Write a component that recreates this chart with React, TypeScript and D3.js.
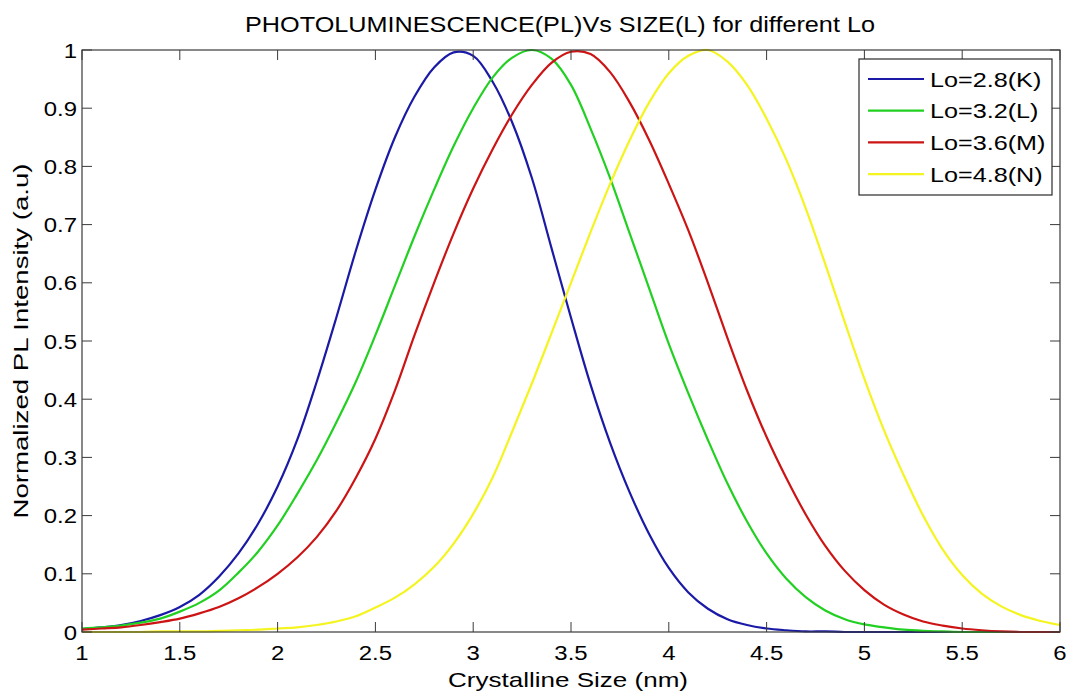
import React from "react";
import * as d3 from "d3";

const W = 1070;
const H = 696;

const sizes = [
  1.0, 1.1, 1.2, 1.3, 1.4, 1.5, 1.6, 1.7, 1.8, 1.9,
  2.0, 2.1, 2.2, 2.3, 2.4, 2.5, 2.6, 2.7, 2.8, 2.9,
  3.0, 3.1, 3.2, 3.3, 3.4, 3.5, 3.6, 3.7, 3.8, 3.9,
  4.0, 4.1, 4.2, 4.3, 4.4, 4.5, 4.6, 4.7, 4.8, 4.9,
  5.0, 5.1, 5.2, 5.3, 5.4, 5.5, 5.6, 5.7, 5.8, 5.9, 6.0,
];

const plK = [
  0.005, 0.008, 0.012, 0.019, 0.029, 0.043, 0.064, 0.095, 0.135, 0.186,
  0.25, 0.33, 0.43, 0.54, 0.655, 0.76, 0.85, 0.92, 0.97, 0.996,
  0.99, 0.945, 0.875, 0.78, 0.66, 0.54, 0.425, 0.325, 0.24, 0.168,
  0.11, 0.068, 0.04, 0.022, 0.012, 0.006, 0.003, 0.001, 0.001, 0,
  0, 0, 0, 0, 0, 0, 0, 0, 0, 0, 0,
];

const plL = [
  0.006, 0.008, 0.011, 0.016, 0.023, 0.035, 0.05, 0.071, 0.102, 0.138,
  0.183, 0.237, 0.295, 0.36, 0.43, 0.51, 0.595, 0.68, 0.76, 0.835,
  0.9, 0.953, 0.987, 1.0, 0.985, 0.94, 0.865, 0.78, 0.685, 0.59,
  0.495, 0.41, 0.33, 0.255, 0.19, 0.135, 0.092, 0.06, 0.037, 0.022,
  0.013, 0.008, 0.004, 0.002, 0.001, 0, 0, 0, 0, 0, 0,
];

const plM = [
  0.004, 0.006, 0.008, 0.012, 0.017, 0.023, 0.032, 0.043, 0.058, 0.077,
  0.1, 0.128, 0.163, 0.208, 0.265, 0.332, 0.415, 0.51, 0.6, 0.685,
  0.762, 0.83, 0.89, 0.94, 0.978, 0.997, 0.993, 0.962, 0.91, 0.845,
  0.77, 0.69, 0.6, 0.505, 0.415, 0.335, 0.265, 0.202, 0.148, 0.105,
  0.072, 0.047, 0.03, 0.018, 0.011, 0.006, 0.003, 0.001, 0, 0, 0,
];

const plN = [
  0, 0, 0, 0, 0.001, 0.001, 0.001, 0.002, 0.003, 0.004,
  0.006, 0.008, 0.012, 0.018, 0.027, 0.042, 0.059, 0.082, 0.112, 0.152,
  0.203, 0.266, 0.345, 0.427, 0.513, 0.6, 0.687, 0.77, 0.845, 0.91,
  0.96, 0.99, 1.0, 0.98, 0.94, 0.882, 0.812, 0.728, 0.632, 0.532,
  0.435, 0.347, 0.27, 0.2, 0.142, 0.098, 0.066, 0.044, 0.029, 0.019, 0.012,
];

const seriesNames = ["Lo=2.8(K)", "Lo=3.2(L)", "Lo=3.6(M)", "Lo=4.8(N)"];
const seriesValues = [plK, plL, plM, plN];
const seriesColors = ["#1a1aa6", "#22d022", "#cc1414", "#f4f420"];

const xTicks = [1, 1.5, 2, 2.5, 3, 3.5, 4, 4.5, 5, 5.5, 6];
const xTickLabels = ["1", "1.5", "2", "2.5", "3", "3.5", "4", "4.5", "5", "5.5", "6"];
const yTicks = [0, 0.1, 0.2, 0.3, 0.4, 0.5, 0.6, 0.7, 0.8, 0.9, 1];
const yTickLabels = ["0", "0.1", "0.2", "0.3", "0.4", "0.5", "0.6", "0.7", "0.8", "0.9", "1"];

const titleText = "PHOTOLUMINESCENCE(PL)Vs SIZE(L) for different Lo";
const xLabelText = "Crystalline Size (nm)";
const yLabelText = "Normalized PL Intensity (a.u)";

const FONT = "'Liberation Sans', Arial, Helvetica, sans-serif";

export default function App() {
  const left = 82;
  const right = 1060;
  const top = 50;
  const bottom = 632;

  const x = d3.scaleLinear().domain([1, 6]).range([left, right]);
  const y = d3.scaleLinear().domain([0, 1]).range([bottom, top]);

  const line = d3
    .line<[number, number]>()
    .x((d) => x(d[0]))
    .y((d) => y(d[1]))
    .curve(d3.curveCatmullRom.alpha(0.5));

  const tickLen = 10;
  const axisColor = "#3a3a3a";

  const legX = 859;
  const legY = 59;
  const legW = 193;
  const legH = 136;
  const rowY0 = 79;
  const rowStep = 31.7;

  return (
    <div style={{ position: "fixed", left: 0, top: 0 }}>
      <svg width={W} height={H} style={{ display: "block", background: "#fff" }}>
        <defs>
          <clipPath id="plotClip">
            <rect x={left} y={top - 2} width={right - left} height={bottom - top + 3} />
          </clipPath>
        </defs>
        <rect x={0} y={0} width={W} height={H} fill="#ffffff" />

        {/* curves */}
        <g clipPath="url(#plotClip)">
          {seriesValues.map((vals, i) => (
            <path
              key={seriesNames[i]}
              d={line(sizes.map((s, j) => [s, vals[j]] as [number, number])) || ""}
              fill="none"
              stroke={seriesColors[i]}
              strokeWidth={2.2}
              strokeLinejoin="round"
            />
          ))}
        </g>

        {/* axes box */}
        <rect
          x={left}
          y={top}
          width={right - left}
          height={bottom - top}
          fill="none"
          stroke={axisColor}
          strokeWidth={1.2}
        />

        {/* x ticks */}
        {xTicks.map((t, i) => (
          <g key={"xt" + i}>
            <line x1={x(t)} x2={x(t)} y1={bottom} y2={bottom - tickLen} stroke={axisColor} strokeWidth={1} />
            <line x1={x(t)} x2={x(t)} y1={top} y2={top + tickLen} stroke={axisColor} strokeWidth={1} />
            <g transform={`translate(${x(t)},${660}) scale(1.14,1)`}>
              <text textAnchor="middle" fontFamily={FONT} fontSize={21} fill="#000">
                {xTickLabels[i]}
              </text>
            </g>
          </g>
        ))}

        {/* y ticks */}
        {yTicks.map((t, i) => (
          <g key={"yt" + i}>
            <line x1={left} x2={left + tickLen} y1={y(t)} y2={y(t)} stroke={axisColor} strokeWidth={1} />
            <line x1={right} x2={right - tickLen} y1={y(t)} y2={y(t)} stroke={axisColor} strokeWidth={1} />
            <g transform={`translate(${77},${y(t) + 7.5}) scale(1.14,1)`}>
              <text textAnchor="end" fontFamily={FONT} fontSize={21} fill="#000">
                {yTickLabels[i]}
              </text>
            </g>
          </g>
        ))}

        {/* title */}
        <text
          x={245}
          y={32}
          fontFamily={FONT}
          fontSize={22}
          fill="#000"
          textLength={630}
          lengthAdjust="spacingAndGlyphs"
        >
          {titleText}
        </text>

        {/* x label */}
        <text
          x={568}
          y={687}
          textAnchor="middle"
          fontFamily={FONT}
          fontSize={21}
          fill="#000"
          textLength={240}
          lengthAdjust="spacingAndGlyphs"
        >
          {xLabelText}
        </text>

        {/* y label */}
        <text
          transform={`translate(28,${(top + bottom) / 2}) rotate(-90)`}
          textAnchor="middle"
          fontFamily={FONT}
          fontSize={21}
          fill="#000"
          textLength={355}
          lengthAdjust="spacingAndGlyphs"
        >
          {yLabelText}
        </text>

        {/* legend */}
        <rect x={legX} y={legY} width={legW} height={legH} fill="#ffffff" stroke="#2a2a2a" strokeWidth={1.2} />
        {seriesNames.map((name, i) => {
          const ry = rowY0 + i * rowStep;
          return (
            <g key={"lg" + i}>
              <line x1={868} x2={924} y1={ry} y2={ry} stroke={seriesColors[i]} strokeWidth={2.2} />
              <g transform={`translate(930,${ry + 7.5}) scale(1.26,1)`}>
                <text fontFamily={FONT} fontSize={20} fill="#000">
                  {name}
                </text>
              </g>
            </g>
          );
        })}
      </svg>
    </div>
  );
}
